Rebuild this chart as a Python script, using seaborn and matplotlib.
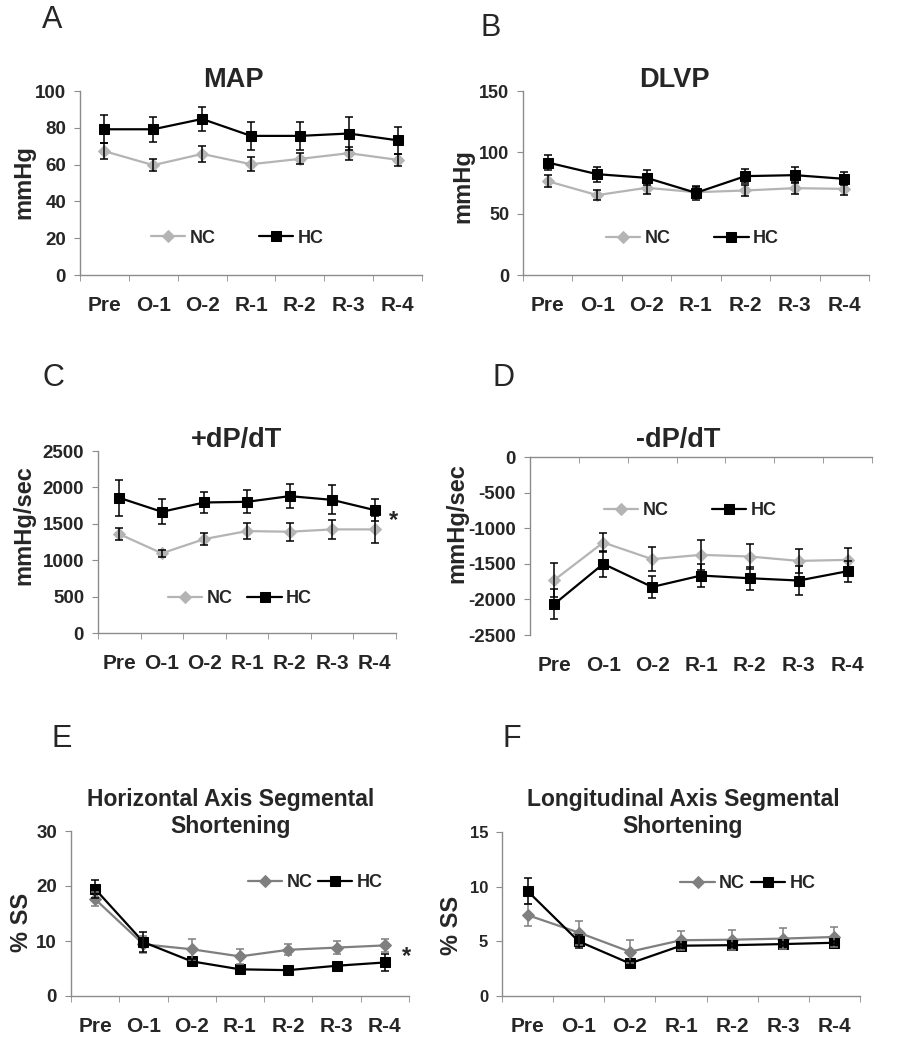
import numpy as np
import matplotlib
matplotlib.use("Agg")
import matplotlib.pyplot as plt
import seaborn as sns

sns.set_style("white")
plt.rcParams["font.family"] = ["Liberation Sans", "DejaVu Sans"]
plt.rcParams["axes.unicode_minus"] = False

categories = ["Pre", "O-1", "O-2", "R-1", "R-2", "R-3", "R-4"]

# A - MAP (mmHg)
map_nc = [67.3, 59.7, 65.8, 60.2, 63.1, 66.2, 62.6]
map_nc_err = [4.4, 3.1, 4.5, 3.8, 3.0, 3.5, 3.3]
map_hc = [79.2, 79.2, 84.8, 75.6, 75.6, 76.9, 73.2]
map_hc_err = [7.7, 6.7, 6.5, 7.4, 7.4, 8.8, 7.2]

# B - DLVP (mmHg)
dlvp_nc = [76.5, 65.1, 71.1, 67.5, 68.9, 70.8, 70.2]
dlvp_nc_err = [5.0, 4.3, 5.0, 4.0, 4.3, 5.0, 4.6]
dlvp_hc = [91.7, 82.2, 79.2, 67.0, 80.6, 81.4, 78.4]
dlvp_hc_err = [6.0, 6.0, 6.0, 5.7, 6.0, 6.8, 5.4]

# C - +dP/dT (mmHg/sec)
pdp_nc = [1359, 1095, 1291, 1400, 1391, 1423, 1423]
pdp_nc_err = [87, 45, 78, 105, 123, 128, 182]
pdp_hc = [1857, 1665, 1793, 1802, 1880, 1829, 1688]
pdp_hc_err = [250, 169, 146, 160, 160, 200, 155]

# D - -dP/dT (mmHg/sec)
ndp_nc = [-1726, -1201, -1435, -1374, -1398, -1459, -1445]
ndp_nc_err = [234, 131, 169, 211, 178, 169, 164]
ndp_hc = [-2064, -1501, -1825, -1665, -1703, -1735, -1604]
ndp_hc_err = [206, 178, 160, 164, 164, 202, 150]

# E - horizontal axis segmental shortening (% SS)
hss_nc = [17.6, 9.4, 8.5, 7.2, 8.4, 8.8, 9.2]
hss_nc_err = [1.3, 1.5, 1.9, 1.3, 1.0, 1.2, 1.2]
hss_hc = [19.45, 9.8, 6.3, 4.85, 4.7, 5.5, 6.1]
hss_hc_err = [1.6, 1.8, 0.5, 0.4, 0.3, 0.4, 1.5]

# F - longitudinal axis segmental shortening (% SS)
lss_nc = [7.4, 5.8, 4.05, 5.1, 5.15, 5.25, 5.4]
lss_nc_err = [1.0, 1.1, 1.05, 0.85, 0.9, 0.95, 0.9]
lss_hc = [9.6, 5.0, 2.98, 4.6, 4.65, 4.75, 4.87]
lss_hc_err = [1.2, 0.6, 0.2, 0.2, 0.2, 0.2, 0.2]

W, H = 902, 1050
GREY = "#8c8c8c"
fig = plt.figure(figsize=(W / 100, H / 100), dpi=100)


def rect(x0, y0, x1, y1):
    # pixel box -> figure fraction
    return [x0 / W, 1 - y1 / H, (x1 - x0) / W, (y1 - y0) / H]


def ftext(x, y, s, **kw):
    fig.text(x / W, 1 - y / H, s, ha="center", va="center", **kw)


def panel(box, nc, nc_err, hc, hc_err, ylim, yticks, leg_xy, colspace,
          nc_color="#b4b4b4", nc_ecolor="black", ytick_size=13.5, top_axis=False):
    ax = fig.add_axes(rect(*box))
    x = np.arange(len(categories))
    ax.errorbar(x, nc, yerr=nc_err, fmt="none", ecolor=nc_ecolor,
                elinewidth=1.1, capsize=2.8, capthick=1.1, zorder=3)
    ax.errorbar(x, hc, yerr=hc_err, fmt="none", ecolor="black",
                elinewidth=1.1, capsize=2.8, capthick=1.1, zorder=3)
    sns.lineplot(x=x, y=nc, ax=ax, color=nc_color, marker="D", markersize=6,
                 markeredgecolor=nc_color, linewidth=1.6, label="NC", zorder=2)
    sns.lineplot(x=x, y=hc, ax=ax, color="black", marker="s", markersize=7,
                 markeredgecolor="black", linewidth=1.6, label="HC", zorder=2)
    ax.set_xlim(-0.5, len(categories) - 0.5)
    ax.set_ylim(*ylim)
    ax.set_yticks(yticks)
    ax.set_xticks(x)
    ax.set_xticklabels(categories)
    ax.set_xticks(np.arange(-0.5, len(categories), 1), minor=True)
    ax.set_xlabel("")
    ax.set_ylabel("")
    for s in ax.spines.values():
        s.set_color(GREY)
        s.set_linewidth(1.0)
    ax.spines["right"].set_visible(False)
    if top_axis:
        ax.spines["bottom"].set_visible(False)
        ax.tick_params(axis="x", which="minor", bottom=False, top=True,
                       direction="in", length=4, color=GREY)
    else:
        ax.spines["top"].set_visible(False)
        ax.tick_params(axis="x", which="minor", bottom=True, top=False,
                       direction="out", length=4, color=GREY)
    ax.tick_params(axis="x", which="major", bottom=True, top=False, length=0,
                   pad=15, labelsize=15)
    ax.tick_params(axis="y", left=True, length=4, color=GREY, pad=6,
                   labelsize=ytick_size)
    for lab in ax.get_xticklabels() + ax.get_yticklabels():
        lab.set_fontweight("bold")
    handles, labels = ax.get_legend_handles_labels()
    ax.legend(handles, labels, ncol=2, frameon=False, loc="center",
              bbox_to_anchor=leg_xy, handlelength=1.9, handletextpad=0.25,
              columnspacing=colspace, prop={"weight": "bold", "size": 13})
    return ax


# A
panel((80, 91, 422, 275), map_nc, map_nc_err, map_hc, map_hc_err,
      (0, 100), [0, 20, 40, 60, 80, 100], (0.46, 0.20), 2.4)
ftext(233, 80, "MAP", fontsize=19.5, fontweight="bold")
ftext(52, 20, "A", fontsize=22)
ftext(24, 182, "mmHg", fontsize=17, fontweight="bold", rotation=90)

# B
panel((523, 91, 869, 275), dlvp_nc, dlvp_nc_err, dlvp_hc, dlvp_hc_err,
      (0, 150), [0, 50, 100, 150], (0.49, 0.196), 2.4, ytick_size=13)
ftext(674, 80, "DLVP", fontsize=19.5, fontweight="bold")
ftext(491, 28, "B", fontsize=22)
ftext(463, 186, "mmHg", fontsize=17, fontweight="bold", rotation=90)

# C
axc = panel((98, 451, 396, 633), pdp_nc, pdp_nc_err, pdp_hc, pdp_hc_err,
            (0, 2500), [0, 500, 1000, 1500, 2000, 2500], (0.477, 0.187), 0.8)
axc.text(0.99, 0.62, "*", transform=axc.transAxes, ha="center", va="center",
         fontsize=17, fontweight="bold", clip_on=False)
ftext(237, 440, "+dP/dT", fontsize=19.5, fontweight="bold")
ftext(53, 378, "C", fontsize=22)
ftext(24, 525, "mmHg/sec", fontsize=17, fontweight="bold", rotation=90)

# D
panel((530, 457, 872, 635), ndp_nc, ndp_nc_err, ndp_hc, ndp_hc_err,
      (-2500, 0), [-2500, -2000, -1500, -1000, -500, 0], (0.468, 0.697), 2.4,
      ytick_size=13.5, top_axis=True)
ftext(678, 440, "-dP/dT", fontsize=19.5, fontweight="bold")
ftext(504, 378, "D", fontsize=22)
ftext(457, 523, "mmHg/sec", fontsize=17, fontweight="bold", rotation=90)

# E
axe = panel((71, 831, 409, 996), hss_nc, hss_nc_err, hss_hc, hss_hc_err,
            (0, 30), [0, 10, 20, 30], (0.722, 0.685), 0.3,
            nc_color="#7f7f7f", nc_ecolor="#7f7f7f")
axe.text(0.994, 0.24, "*", transform=axe.transAxes, ha="center", va="center",
         fontsize=17, fontweight="bold", clip_on=False)
ftext(231, 813, "Horizontal Axis Segmental\nShortening", fontsize=16.5,
      fontweight="bold", linespacing=1.2)
ftext(62, 739, "E", fontsize=22)
ftext(22, 922, "% SS", fontsize=17, fontweight="bold", rotation=90)

# F
panel((502, 832, 860, 996), lss_nc, lss_nc_err, lss_hc, lss_hc_err,
      (0, 15), [0, 5, 10, 15], (0.687, 0.685), 0.3,
      nc_color="#7f7f7f", nc_ecolor="#7f7f7f", ytick_size=12)
ftext(683, 813, "Longitudinal Axis Segmental\nShortening", fontsize=16.5,
      fontweight="bold", linespacing=1.2)
ftext(512, 739, "F", fontsize=22)
ftext(452, 925, "% SS", fontsize=17, fontweight="bold", rotation=90)

fig.savefig("out.png", dpi=100)
